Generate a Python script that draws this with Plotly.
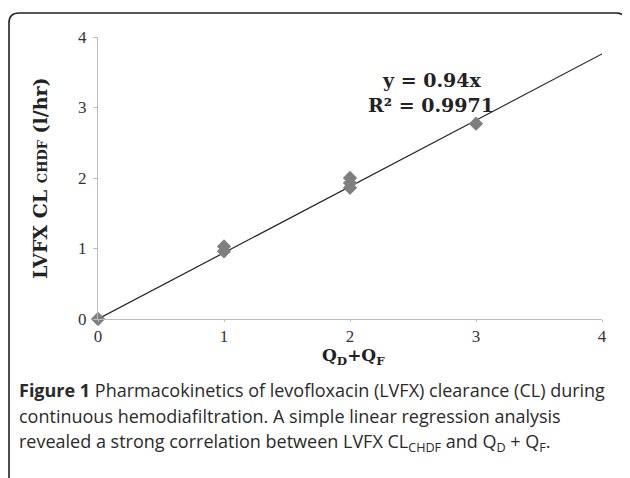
import plotly.graph_objects as go

# Data
qd_qf = [0, 1, 1, 2, 2, 2, 3]
lvfx_cl = [0, 1.03, 0.96, 2.0, 1.93, 1.86, 2.77]
trend_x = [0, 4]
trend_y = [0, 3.76]
tick_vals = [0, 1, 2, 3, 4]
tick_text = ["0", "1", "2", "3", "4"]

W, H = 630, 478
L, R, T, B = 98, 28, 37, 159      # plot area in reference pixels
PW, PH = W - L - R, H - T - B
OFF = 8                            # page body margin offset

def px(x):
    return (x - L) / PW

def py(y):
    return (H - B - y) / PH

fig = go.Figure()
fig.add_trace(go.Scatter(x=trend_x, y=trend_y, mode="lines",
                         line=dict(color="#222222", width=1.2),
                         hoverinfo="skip", showlegend=False, cliponaxis=False))
fig.add_trace(go.Scatter(x=qd_qf, y=lvfx_cl, mode="markers",
                         marker=dict(symbol="diamond", size=11, color="#7f7f7f"),
                         showlegend=False, cliponaxis=False))

axis_common = dict(range=[0, 4], showgrid=False, zeroline=False, showline=True,
                   linecolor="#bdbdbd", linewidth=1, ticks="outside",
                   tickcolor="#bdbdbd", tickvals=tick_vals, ticktext=tick_text,
                   tickfont=dict(family="Liberation Serif", size=17, color="#333333"),
                   fixedrange=True)
fig.update_xaxes(**axis_common, ticklen=2)
fig.update_yaxes(**axis_common, ticklen=4, ticklabelstandoff=3)

# Rounded border box
x0, x1, y0, y1, r = 9, 626, 13, 530, 10
path = (f"M {px(x0)} {py(y1)} L {px(x0)} {py(y0 + r)} "
        f"Q {px(x0)} {py(y0)} {px(x0 + r)} {py(y0)} "
        f"L {px(x1 - r)} {py(y0)} "
        f"Q {px(x1)} {py(y0)} {px(x1)} {py(y0 + r)} "
        f"L {px(x1)} {py(y1)}")
fig.add_shape(type="path", path=path, xref="paper", yref="paper",
              line=dict(color="#222222", width=1.6))

serif_bold = dict(family="DejaVu Serif", size=19, color="#222222")
annotations = [
    dict(x=px(431), y=py(80), xref="paper", yref="paper", text="<b>y = 0.94x</b>",
         xanchor="center", yanchor="middle", showarrow=False, font=serif_bold),
    dict(x=px(431), y=py(105), xref="paper", yref="paper", text="<b>R² = 0.9971</b>",
         xanchor="center", yanchor="middle", showarrow=False, font=serif_bold),
    dict(x=px(353), y=py(343), xref="paper", yref="paper",
         xanchor="center", yanchor="top",
         text="<b>Q<sub>D</sub>+Q<sub>F</sub></b>", showarrow=False,
         font=dict(family="DejaVu Serif", size=17, color="#222222")),
    dict(x=px(40), y=py(178), xref="paper", yref="paper", textangle=-90,
         xanchor="center", yanchor="middle",
         text="<b>LVFX CL <span style='font-size:13px'>CHDF</span> (l/hr)</b>",
         showarrow=False, font=dict(family="DejaVu Serif", size=19, color="#222222")),
]
cap_font = dict(family="Open Sans", size=18, color="#2a2a2a")
cap_lines = [
    "<b>Figure 1</b> Pharmacokinetics of levofloxacin (LVFX) clearance (CL) during",
    "continuous hemodiafiltration. A simple linear regression analysis",
    "revealed a strong correlation between LVFX CL<sub>CHDF</sub> and Q<sub>D</sub> + Q<sub>F</sub>.",
]
for i, t in enumerate(cap_lines):
    annotations.append(dict(x=px(17), y=py(390 + 26 * i), xref="paper", yref="paper",
                            xanchor="left", yanchor="middle", text=t,
                            showarrow=False, font=cap_font))

fig.update_layout(width=W, height=H,
                  margin=dict(l=L - OFF, r=R + OFF, t=T - OFF, b=B + OFF),
                  paper_bgcolor="white", plot_bgcolor="white",
                  annotations=annotations, showlegend=False)

fig.write_html("out.html")
